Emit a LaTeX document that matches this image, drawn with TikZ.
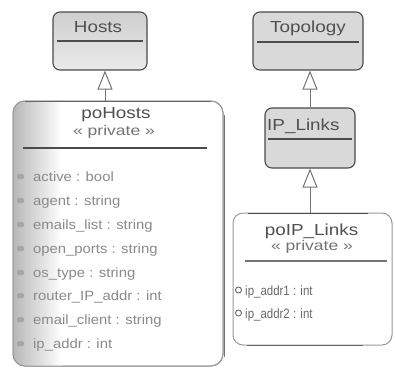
\documentclass[tikz,border=0pt]{standalone}
\usepackage{fontspec}
\setmainfont{Liberation Sans}
\newfontfamily\titlef[FakeStretch=1.18]{Liberation Sans}
\newfontfamily\stereof[FakeStretch=1.25]{Liberation Sans}
\newfontfamily\attrf[FakeStretch=1.1]{Liberation Sans}
\newfontfamily\narrowf[FakeStretch=0.85]{Liberation Sans}
\usetikzlibrary{arrows.meta}
\definecolor{ink}{HTML}{505050}
\definecolor{attrink}{HTML}{8A8A8A}
\definecolor{boxline}{HTML}{4A4A4A}
\tikzset{
  classbox/.style={draw=boxline, line width=1.1pt, rounded corners=7pt, inner sep=0pt},
  flatbox/.style={classbox, fill=black!15},
  shadedbox/.style={classbox, top color=black!19, bottom color=black!8},
  privbox/.style={draw=black!40, line width=1pt, inner sep=0pt},
  titletext/.style={font=\titlef\fontsize{16}{18}\selectfont, text=ink, inner sep=0pt, anchor=base},
  stereotext/.style={font=\stereof\fontsize{14}{16}\selectfont, text=ink!80, inner sep=0pt, anchor=base},
  attrtext/.style={font=\attrf\fontsize{13.5}{15}\selectfont, text=attrink, inner sep=0pt, anchor=base west},
  smallattr/.style={font=\narrowf\fontsize{13.5}{15}\selectfont, text=ink!85, inner sep=0pt, anchor=base west},
  sepline/.style={draw=black!70, line width=1.1pt},
  inh/.style={draw=black!55, line width=1pt, -{Triangle[open, length=19pt, width=15pt]}},
}
\begin{document}
\begin{tikzpicture}[x=1pt, y=-1pt]
\useasboundingbox (0,0) rectangle (395,370);

% ---- Hosts
\node[shadedbox, minimum width=94pt, minimum height=58pt] (hosts) at (100,41) {};
\node[titletext] (hoststitle) at (98,32) {Hosts};
\draw[sepline] (57,41) -- (143,41);

% ---- poHosts
\node[privbox, rounded corners=12pt, minimum width=210pt, minimum height=265pt, fill=white] (pohosts) at (118,233.5) {};
\begin{scope}
  \clip[rounded corners=12pt] (13,101) rectangle (223,366);
  \shade[left color=black!28, right color=white] (13,101) rectangle (62,366);
\end{scope}
\draw[privbox, rounded corners=12pt] (13,101) rectangle (223,366);
\draw[draw=black!60, line width=1pt] (25,101) -- (211,101);
\draw[draw=black!55, line width=1pt] (224.5,115) -- (224.5,357);
\node[titletext] (pohoststitle) at (116,118) {poHosts};
\node[stereotext] (pohostsster) at (114,135) {« private »};
\draw[sepline] (23,148) -- (207,148);
\foreach \y/\t [count=\i] in {181/active : bool, 205/agent : string, 229/emails\_list : string,
    253/open\_ports : string, 277/os\_type : string, 300/router\_IP\_addr : int,
    324/email\_client : string, 348/ip\_addr : int} {
  \fill[black!35, rounded corners=1.5pt] (17,\y-7) rectangle (24,\y-2);
  \node[attrtext] (hattr\i) at (33,\y) {\t};
}

% ---- Topology
\node[flatbox, minimum width=110pt, minimum height=58pt] (topo) at (308,41) {};
\node[titletext] (topotitle) at (308,32) {Topology};
\draw[sepline] (257,42) -- (359,42);

% ---- IP_Links
\node[flatbox, minimum width=90pt, minimum height=60pt] (ipl) at (310,138) {};
\node[titletext, anchor=base west] (ipltitle) at (267,130) {IP\_Links};
\draw[sepline] (268,139) -- (352,139);

% ---- poIP_Links
\node[privbox, rounded corners=10pt, minimum width=159pt, minimum height=132pt, fill=white] (poip) at (312.5,279) {};
\draw[draw=black!70, line width=1pt] (248,213) -- (368,213);
\draw[draw=black!60, line width=1pt] (247,345) -- (363,345);
\node[titletext] (poiptitle) at (311.5,235) {poIP\_Links};
\node[stereotext] (poipster) at (312,250) {« private »};
\draw[sepline, draw=black!55] (245,261) -- (387,261);
\draw[black!60, line width=0.9pt] (238.5,290) circle (3pt);
\node[smallattr] (pattr1) at (245,295) {ip\_addr1 : int};
\draw[black!60, line width=0.9pt] (238.5,313) circle (3pt);
\node[smallattr] (pattr2) at (245,318) {ip\_addr2 : int};

% ---- generalisations
\draw[inh] ([xshift=5pt]hosts.south |- pohosts.north) -- ([xshift=5pt]hosts.south);
\draw[inh] (ipl.north) -- (ipl.north |- topo.south);
\draw[inh] (poip.north -| ipl.south) -- (ipl.south);
\end{tikzpicture}
\end{document}
